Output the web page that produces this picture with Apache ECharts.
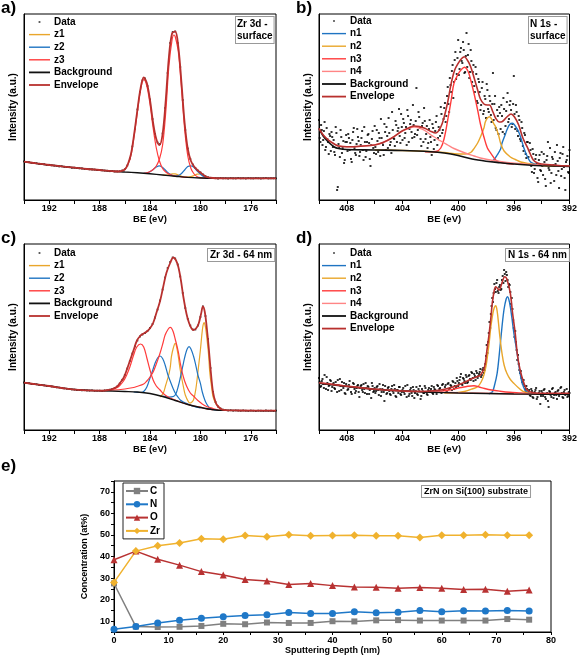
<!DOCTYPE html>
<html><head><meta charset="utf-8">
<script src="https://cdn.jsdelivr.net/npm/echarts@6/dist/echarts.min.js"></script>
<style>html,body{margin:0;padding:0;background:#fff}#c{width:580px;height:659px}</style>
</head><body><div id="c"></div><script>
// ---------- Panel a: Zr 3d surface (BE eV, intensity a.u.) ----------
const aDataStart = 194, aDataStep = 0.2;
const aData = [38.6,38.0,37.9,37.2,37.0,36.8,36.2,36.0,35.8,35.1,35.2,34.6,34.3,34.2,33.5,33.7,33.2,32.9,32.8,32.2,
32.4,32.0,31.6,31.5,31.0,31.1,30.6,30.5,30.4,29.9,30.1,29.6,29.4,29.3,28.8,28.9,28.5,28.6,28.8,29.6,30.8,
34.5,41.5,53.5,71,90.5,108,119.5,121.5,114,100.5,81,66,57.5,56,66.5,92,127,157,168,168.5,
157,133,100,70,51.5,41,35.5,32,29.5,27.6,25.5,23.8,22.9,22.2,21.9,21.8,21.5,21.9,21.6,21.7,
21.4,21.8,21.6,21.5,21.9,21.6,21.7,21.4,21.8,21.6,21.5,21.8,21.7,21.4,21.7,21.8,21.5,21.7,21.6,21.7];
const aEnv = [[194,38.3],[193,36.6],[192,35],[191,33.6],[190,32.3],[189,31],[188,30],[187.5,29.3],[187,28.8],[186.5,28.5],[186.25,29],[186,30.5],[185.75,36],[185.5,46.5],[185.25,66.5],[185,90],[184.75,111.5],[184.5,122.5],[184.25,117],[184,100],[183.75,77],[183.5,61],[183.25,55],[183,66],[182.75,100],[182.5,143],[182.25,166.5],[182,168.5],[181.75,153],[181.5,117],[181.25,77],[181,51],[180.75,39],[180.5,33.5],[180.25,30],[180,27.5],[179.75,25],[179.5,23],[179,22],[178,21.7],[174,21.7]];
const aBg = [[194,38.3],[192,35],[190,32.3],[188,30],[187,28.8],[186,28],[185,27.2],[184,26.2],[183,25],[182,23.8],[181,22.6],[180,22],[179,21.7],[174,21.7]];
const aZ3a = [[187,28.8],[186.5,28.6],[186.25,29.2],[186,30.5],[185.75,35.5],[185.5,45.5],[185.25,65],[185,88],[184.75,110],[184.5,120.5],[184.25,114],[184,96],[183.75,72],[183.5,52],[183.25,39],[183,31.5],[182.75,28],[182.5,26],[182.25,24.8],[182,24],[181.5,23.2],[181,22.6]];
const aZ3b = [[184.5,26.6],[184.25,27.2],[184,28.5],[183.75,30.5],[183.5,34],[183.25,41],[183,55],[182.75,88],[182.5,134],[182.25,160],[182.1,165],[182,163.5],[181.75,148],[181.5,111],[181.25,71],[181,44],[180.75,31.5],[180.5,26],[180.25,23.3],[180,22.4],[179.5,21.9],[179,21.7]];
const aZ2 = [[184.5,26.6],[184.25,27],[184,28.3],[183.75,30.5],[183.5,33],[183.25,34.2],[183,32.5],[182.75,29.5],[182.5,26.5],[182.25,24.6],[182,24],[181.75,24.5],[181.5,26.5],[181.25,30],[181,33.5],[180.75,34.2],[180.5,32.5],[180.25,29],[180,26],[179.75,23.5],[179.5,22.2],[179.25,21.8],[179,21.7]];
const aZ1 = [[183,25],[182.75,24.8],[182.5,25.3],[182.25,26.2],[182,26.2],[181.75,25],[181.5,23.8],[181.25,23],[181,22.8],[180.75,23.3],[180.5,24.5],[180.25,25.8],[180,26],[179.75,24.8],[179.5,23],[179.25,22],[179,21.7]];

// ---------- Panel b: N 1s surface ----------
const bDataStart = 410, bDataStep = 0.1;
const bData = [80,58,70,60,78,53,61,46,64,68, 53,48,73,10,56,43,63,52,37,58, 58,66,50,41,60,72,47,56,63,44,
55,69,40,58,49,65,57,34,61,52, 74,46,59,67,44,62,55,76,50,64, 82,55,47,70,61,79,58,72,64,86,
60,77,67,55,84,71,80,62,75,66, 112,70,83,61,74,58,79,66,52,71, 63,45,72,60,78,55,73,64,86,70,
92,78,104,96,122,108,135,118,148,126, 160,131,152,137,150,128,167,145,122,150, 118,135,108,126,97,118,90,112,86,104,
82,110,88,99,78,127,96,72,90,66, 87,95,68,91,74,98,78,95,90,76, 124,71,88,64,80,59,72,49,65,42,
58,36,50,28,46,31,45,22,40,30, 48,25,38,14,44,32,52,27,41,19, 36,55,29,42,24,46,33,10,40,28, 50];
const bData2Start = 409.95, bData2Step = 0.1;
const bData2 = [62,75,55,69,50,72,58,66,49,63, 60,45,67,13,52,70,47,59,40,65, 49,62,57,38,68,52,45,71,59,48,
62,50,73,43,58,66,41,55,69,47, 53,70,48,62,81,57,45,68,73,52, 67,58,88,62,54,75,69,91,57,73,
81,62,73,90,58,76,68,95,63,79, 65,88,72,54,77,92,61,74,57,80, 58,76,51,69,84,62,70,93,67,81,
97,84,113,88,115,129,102,140,121,142, 125,148,139,158,127,144,133,156,128,139, 128,114,133,99,121,108,95,118,89,101,
116,91,104,85,96,80,104,70,84,93, 71,84,102,66,89,107,81,99,73,96, 86,95,69,84,61,78,54,67,46,58,
43,57,34,51,27,41,36,18,45,29, 34,46,21,40,58,30,17,43,35,48, 25,39,12,47,31,53,22,38,44,27];
const bEnv = [[410,71.7],[409.7,65],[409.33,60],[408.9,56],[408.6,54],[408,53.3],[407,53.8],[406,55],[405.4,57.5],[404.8,61.7],[404,69.3],[403.5,72.5],[403.15,74],[402.8,73.5],[402.4,71.7],[401.95,68.5],[401.6,67],[401.25,73],[401,83.3],[400.75,98],[400.5,116.7],[400.25,130],[400,136.7],[399.75,141.5],[399.55,143.3],[399.3,139],[399.1,133.3],[398.85,122],[398.6,110],[398.4,101],[398.15,96],[397.9,95],[397.75,95],[397.5,88],[397.3,81.7],[397.05,78],[396.85,78.3],[396.5,83],[396.2,86],[395.95,83],[395.65,75],[395.35,62],[395.05,53.3],[394.8,45.5],[394.6,40],[394.3,37],[394,36],[393,34.8],[392,34]];
const bBg = [[410,71.7],[409.7,64],[409.33,58],[408.9,53],[408.6,51.5],[408,50.5],[406,50],[404,49.5],[402,48.3],[401,47],[400,44.5],[399,41],[398,38.8],[397,37.3],[396,36],[395,35],[394,34.3],[392,33.5]];
const bN4 = [[410,71.7],[409.7,65],[409.33,60],[408.9,56],[408.6,54],[408,53.3],[407,53.8],[406,55],[405.4,57.5],[404.8,61.7],[404,69],[403.5,72],[403.15,73],[402.8,72],[402.4,69.5],[401.95,65],[401.6,62],[401.25,59],[400.75,55],[400.3,51.5],[399.5,47],[398.85,44],[398.4,42],[397.5,39.5],[396.5,37.5],[395.3,36],[394,35],[392,34]];
const bN3 = [[402.4,48.2],[401.95,48.3],[401.6,48.5],[401.25,52],[401,62],[400.75,80],[400.5,100],[400.3,116.7],[400,126],[399.8,130],[399.55,132.7],[399.3,129],[399.1,120],[398.85,106],[398.6,90],[398.4,76],[398.15,63],[397.9,52],[397.65,46.7],[397.3,40],[397,38],[396.5,36.5],[396,36]];
const bN2 = [[406,50],[404,49.5],[402,48.5],[401,47.5],[400,46],[399.5,46],[399.1,47.5],[398.85,51.7],[398.6,57],[398.4,63],[398.15,72],[398.05,78],[397.9,82],[397.75,83.3],[397.6,81],[397.45,76.5],[397.3,73],[397.1,65],[396.95,56.7],[396.7,49],[396.25,43],[395.9,40.5],[395.5,38],[395,36.5],[394.5,35.5],[394,34.5],[393,33.8]];
const bN1 = [[397.6,38.5],[397.45,40],[397.2,45],[396.95,51],[396.85,56.7],[396.6,66],[396.5,70],[396.3,75.5],[396.1,76.7],[395.9,74],[395.65,68],[395.45,60],[395.3,53],[395.05,44],[394.8,38],[394.5,36],[394,34.5]];

// ---------- Panel c: Zr 3d 64 nm ----------
const cDataStart = 194, cDataStep = 0.2;
const cData = [47.5,47.0,46.8,46.0,45.9,45.7,45.0,44.9,44.6,44.0, 44.1,43.5,43.2,42.6,42.4,42.1,41.5,41.2,40.9,40.5,
40.4,40.0,39.9,39.6,39.8,39.5,39.3,39.6,39.2,39.4, 39.4,39.2,39.7,39.8,40.3,41.0,41.9,43.6,46.5,50.2, 55,
61.5,69,76.5,83.5,89.5,93.5,95.5,97,99,102, 106,112.5,120.5,129.5,140.5,152.5,162,168,172.5,171.5,
165.5,153.5,137,122,111,104.5,100.5,100.5,104.5,113, 123.5,114,91,62,38,28,23.5,21.5,20.4,19.9,
19.5,19.8,19.3,19.6,19.4,19.2,19.6,19.3,19.1,19.5,19.3,19.0,19.4,19.3,19.1,19.5,19.2,19.3,19.0,19.3];
const cEnv = [[194,47.3],[193,45.6],[192,44],[191,42],[190,40.3],[189,39.6],[188,39.3],[187.5,39.6],[187,41],[186.6,43.5],[186.4,46.7],[186.1,52],[185.85,60],[185.6,69],[185.3,80],[185.05,89],[184.75,94.5],[184.5,96.5],[184.25,98.5],[184,101.7],[183.75,107],[183.5,116.7],[183.2,129],[182.95,143.3],[182.7,157],[182.4,167],[182.15,172.5],[181.95,170],[181.75,163],[181.55,150],[181.35,133],[181.1,116],[180.9,107],[180.7,101.5],[180.55,100],[180.35,101.5],[180.15,106],[179.95,116],[179.8,123.5],[179.65,118],[179.5,103],[179.35,84],[179.2,62],[179,38],[178.8,28],[178.6,23.5],[178.2,20.2],[177,19.5],[174,19.3]];
const cBg = [[194,47.3],[192,44],[190,40.5],[188,39.3],[186,38.5],[185,38],[184,36.5],[183,33.5],[182,29.5],[181,25.5],[180,22.5],[179,20.3],[178,19.6],[174,19.3]];
const cZ3a = [[188,39.3],[187.5,39.5],[187,40.5],[186.6,42.5],[186.4,44.5],[186.1,49],[185.85,55],[185.6,63],[185.3,75],[185.05,83],[184.75,86],[184.5,83],[184.25,72],[184,60],[183.75,50],[183.5,44],[183.2,40],[182.95,36.5],[182.55,33],[182,30],[181.5,27.5],[181,25.5],[180.5,24],[180,22.8],[179.5,21],[179,20.3]];
const cZ3b = [[188,39.3],[187,39.8],[186,41],[185.3,42.5],[185.05,43.5],[184.5,46],[184.25,49],[184,53],[183.75,58],[183.5,66],[183.2,77],[182.95,88],[182.8,95],[182.55,101],[182.4,102.7],[182.3,102],[182.15,98],[182,91],[181.75,78],[181.6,67],[181.35,53],[181.1,44],[180.8,37],[180.55,34],[180.2,29.5],[179.9,26.5],[179.5,23.5],[179,21.5],[178.6,20],[178.2,19.6]];
const cZ2a = [[185.3,38],[184.75,37.5],[184.5,38.5],[184.25,43],[184,52],[183.75,61],[183.6,66.7],[183.4,72],[183.2,74],[183,71.5],[182.8,65],[182.6,56],[182.4,49],[182.15,41],[182,37],[181.75,32.5],[181.6,30],[181.35,28],[181,26],[180.5,23.5],[180,22]];
const cZ2b = [[183,34],[182.5,33],[182.15,33.5],[181.95,36],[181.75,44],[181.6,52],[181.35,66.7],[181.2,75],[181.05,81],[180.9,83.3],[180.75,81],[180.55,74],[180.4,66.7],[180.2,55],[180,46.7],[179.85,38],[179.65,30],[179.5,26],[179.25,21.7],[179,20.5],[178.6,19.8]];
const cZ1a = [[183.2,33],[182.95,36.7],[182.75,45],[182.55,53.3],[182.4,62],[182.3,73.3],[182.15,82],[182,86.7],[181.9,84],[181.75,73.3],[181.6,60],[181.35,43.3],[181.2,35],[180.95,28.3],[180.8,26.7]];
const cZ1b = [[180.8,26.7],[180.55,30],[180.35,42],[180.15,63.3],[180,80],[179.9,93.3],[179.8,104],[179.7,107.3],[179.6,103],[179.5,93.3],[179.35,75],[179.25,56.7],[179.1,42],[179,33.3],[178.8,27],[178.6,23.3],[178.3,20.5],[178,19.7]];

// ---------- Panel d: N 1s 64 nm ----------
const dDataStart = 410, dDataStep = 0.1;
const dData = [52,43,49,46,55,41,47,44,50,39, 46,42,48,38,45,51,40,44,47,36, 44,41,49,38,43,46,37,42,45,33,
44,40,46,37,42,44,36,41,47,38, 42,39,44,35,41,38,45,29,40,37, 43,36,41,39,45,34,40,37,43,35,
40,38,44,33,39,36,42,34,40,37, 43,35,39,31,41,37,44,38,35,42, 39,44,36,41,38,45,39,42,37,46,
40,45,39,47,42,44,49,41,47,52, 44,50,56,45,51,47,53,48,55,50, 57,49,54,59,52,56,61,55,62,60,
74,77,97,102,124,128,146,138,150,137, 145,141,154,160,149,155,143,145,126,121, 102,99,80,75,60,59,48,50,41,44,
36,40,34,39,32,38,42,33,37,26, 39,34,41,31,37,23,38,33,42,35, 38,31,40,36,43,33,38,35,41,34, 37];
const dData2Start = 409.95, dData2Step = 0.1;
const dData2 = [48,44,51,42,46,53,40,45,49,43, 47,41,45,50,39,44,48,42,37,46, 40,45,43,36,47,41,39,44,38,42,
45,38,41,47,36,43,40,32,44,39, 37,43,40,46,34,41,38,44,36,42, 39,35,44,37,41,33,40,43,36,38,
42,36,39,45,34,40,37,43,32,39, 36,41,44,34,39,37,42,36,40,38, 41,37,43,40,36,44,41,38,45,40,
43,38,46,41,45,40,48,44,43,49, 47,53,46,52,49,55,47,54,51,58, 52,56,50,57,54,58,53,60,57,66,
85,88,108,116,132,137,141,147,139,143, 140,150,147,156,158,150,146,138,132,110, 93,88,70,66,57,52,46,44,39,41,
38,35,41,33,37,40,31,36,39,34, 37,40,33,36,29,39,35,41,32,37, 35,39,34,42,37,32,40,36,33,38];
const dEnv = [[410,47.3],[408,43.8],[406,40.8],[404,39],[403.2,38.5],[402,39],[401.25,40],[400.5,42.5],[400,45],[399.5,48],[399.1,50.7],[398.7,53],[398.4,55],[398.15,61],[398.05,66.7],[397.95,78],[397.8,93.3],[397.65,112],[397.55,126.7],[397.4,140],[397.3,143.3],[397.2,142],[397.05,140],[396.9,145],[396.65,153.3],[396.5,151],[396.25,136.7],[396.1,118],[395.9,96.7],[395.75,76],[395.55,60],[395.3,48],[395.05,40],[394.7,37.5],[394.1,36.7],[392,36.7]];
const dBg = [[410,46.7],[408,43.5],[406,40.8],[404,39],[402,37.8],[400,37],[398,36.5],[396,36],[394,35.8],[392,35.7]];
const dN4 = [[410,47.3],[408,43.8],[406,41],[404,39.2],[402,38.2],[400,37.3],[398,36.7],[396,36.1],[394,35.8]];
const dN3 = [[402,38.3],[401.25,38.8],[400.75,39.8],[400.3,41],[399.8,42.5],[399.3,43.8],[398.86,44.3],[398.5,43],[398.1,41.5],[397.6,40],[397,38.8],[396.3,37.7],[395.5,37],[395,36.5],[394.5,36.2]];
const dN2 = [[401,37],[400,37.5],[399.55,38.5],[399,41],[398.6,43.3],[398.35,48],[398.15,55],[398,64],[397.9,73.3],[397.75,90],[397.65,103.3],[397.5,117],[397.4,122.5],[397.3,124.3],[397.2,119],[397.1,106.7],[397,93],[396.85,76.7],[396.7,65],[396.5,56.7],[396.25,50.5],[396,46.7],[395.65,42],[395.3,38.3],[394.9,36.8],[394.6,36],[394,35.8]];
const dN1 = [[397.8,36.3],[397.55,38],[397.4,44],[397.2,56.7],[397.05,75],[396.85,103.3],[396.7,121],[396.55,131],[396.45,133.3],[396.3,127],[396.15,113.3],[396,97],[395.8,80],[395.65,66],[395.55,56.7],[395.4,47],[395.2,40],[395,37.5],[394.7,36.2],[394.3,36]];

// ---------- Panel e: depth profile ----------
const depth = [0,4,8,12,16,20,24,28,32,36,40,44,48,52,56,60,64,68,72,76];
const concC  = [27.5,7.5,7.3,7.4,7.8,8.8,8.6,9.4,9.2,9.2,10.0,9.9,10.4,10.5,10.3,10.3,10.3,10.3,11.0,10.7];
const concN  = [6.3,7.6,9.2,10.5,11.4,12.1,12.7,13.0,14.0,13.6,13.6,14.4,13.9,14.2,15.0,14.4,14.8,14.7,15.0,14.7];
const concO  = [38.5,42.5,38.7,36.0,33.0,31.4,29.3,28.6,27.0,27.5,26.5,25.9,25.8,25.3,25.6,25.3,24.7,24.8,23.9,24.5];
const concZr = [28.0,42.5,45.0,46.3,48.2,48.0,49.7,49.2,50.1,49.6,49.7,49.8,49.6,49.6,48.8,49.9,49.9,50.1,49.8,49.9];

// ---------- build ----------
const FONT = '"Liberation Sans", Arial, sans-serif';
const COL = {z1:'#E9A62B', z2:'#1F74C2', z3:'#FF3B3B', n4:'#FF8585', bg:'#111111', env:'#B8302E'};
const seq = (start, step, vals) => vals.map((v, i) => [+(start - i * step).toFixed(2), v]);

function scat(name, data, i, size) {
  return {type:'scatter', name, data, xAxisIndex:i, yAxisIndex:i, symbol:'rect', symbolSize:size,
    itemStyle:{color:'#000'}, z:1, silent:true, animation:false};
}
function ln(name, data, color, width, i, z) {
  return {type:'line', name, data, xAxisIndex:i, yAxisIndex:i, symbol:'none', showSymbol:false,
    smooth:0.35, lineStyle:{color, width}, itemStyle:{color}, z, silent:true, animation:false};
}
const lblStyle = {fontFamily:FONT, fontWeight:'bold', fontSize:9, color:'#000'};
function beAxis(i, min, max) {
  return {type:'value', gridIndex:i, inverse:true, min, max, interval:2,
    axisLine:{show:true, lineStyle:{color:'#000', width:1}},
    axisTick:{show:true, inside:false, length:4, lineStyle:{color:'#000'}},
    splitLine:{show:false},
    axisLabel:Object.assign({margin:4, formatter: v => (Math.round(v) % 4 === 0 ? String(v) : '')}, lblStyle),
    name:'BE (eV)', nameLocation:'middle', nameGap:14,
    nameTextStyle:{fontFamily:FONT, fontWeight:'bold', fontSize:9.5, color:'#000'}};
}
function intAxis(i) {
  return {type:'value', gridIndex:i, min:0, max:186,
    axisLine:{show:true, lineStyle:{color:'#000'}}, axisTick:{show:false}, axisLabel:{show:false}, splitLine:{show:false},
    name:'Intensity (a.u.)', nameLocation:'middle', nameGap:6,
    nameTextStyle:{fontFamily:FONT, fontWeight:'bold', fontSize:10, color:'#000'}};
}
const gridBase = {show:true, borderColor:'#000', borderWidth:1, backgroundColor:'transparent'};
const dotIcon = w => `path://M0,0M${w},10M${w/2-0.9},4.2h1.8v1.6h-1.8z`;
const lineIcon = (w, t) => `path://M0,0M${w},10M0,${5-t/2}h${w}v${t}h-${w}z`;
function legendXPS(left, top, w, names) {
  const items = [{name:'Data', icon:dotIcon(w)}].concat(names.map(n => ({name:n,
    icon: lineIcon(w, n === 'Envelope' || n === 'Background' ? 1.8 : 1.4)})));
  return {orient:'vertical', left, top, itemWidth:w, itemHeight:10, itemGap:2.6, selectedMode:false,
    padding:0, textStyle:{fontFamily:FONT, fontWeight:'bold', fontSize:10, color:'#000', padding:[0,0,0,-1]},
    data:items};
}

const series = [
  // a
  scat('Data', seq(aDataStart, aDataStep, aData), 0, 1.8),
  ln('z1', aZ1, COL.z1, 1.2, 0, 2), ln('z2', aZ2, COL.z2, 1.2, 0, 2),
  ln('z3', aZ3a, COL.z3, 1.2, 0, 2), ln('z3', aZ3b, COL.z3, 1.2, 0, 2),
  ln('Background', aBg, COL.bg, 1.4, 0, 3), ln('Envelope', aEnv, COL.env, 1.8, 0, 4),
  // b
  scat('Data', seq(bDataStart, bDataStep, bData), 1, 2),
  scat('Data', seq(bData2Start, bData2Step, bData2), 1, 2),
  ln('n1', bN1, COL.z2, 1.4, 1, 2), ln('n2', bN2, COL.z1, 1.4, 1, 2),
  ln('n3', bN3, COL.z3, 1.4, 1, 2), ln('n4', bN4, COL.n4, 1.4, 1, 2),
  ln('Background', bBg, COL.bg, 1.6, 1, 3), ln('Envelope', bEnv, COL.env, 1.6, 1, 4),
  // c
  scat('Data', seq(cDataStart, cDataStep, cData), 2, 1.8),
  ln('z1', cZ1a, COL.z1, 1.2, 2, 2), ln('z1', cZ1b, COL.z1, 1.2, 2, 2),
  ln('z2', cZ2a, COL.z2, 1.2, 2, 2), ln('z2', cZ2b, COL.z2, 1.2, 2, 2),
  ln('z3', cZ3a, COL.z3, 1.2, 2, 2), ln('z3', cZ3b, COL.z3, 1.2, 2, 2),
  ln('Background', cBg, COL.bg, 1.4, 2, 3), ln('Envelope', cEnv, COL.env, 1.8, 2, 4),
  // d
  scat('Data', seq(dDataStart, dDataStep, dData), 3, 2),
  scat('Data', seq(dData2Start, dData2Step, dData2), 3, 2),
  ln('n1', dN1, COL.z2, 1.4, 3, 2), ln('n2', dN2, COL.z1, 1.4, 3, 2),
  ln('n3', dN3, COL.z3, 1.4, 3, 2), ln('n4', dN4, COL.n4, 1.4, 3, 2),
  ln('Background', dBg, COL.bg, 1.4, 3, 3), ln('Envelope', dEnv, COL.env, 1.6, 3, 4)
];
const eSer = [
  ['C', concC, '#808080', 'rect', 6],
  ['N', concN, '#1F78C8', 'circle', 7],
  ['O', concO, '#B83232', 'triangle', 7],
  ['Zr', concZr, '#F0B22E', 'diamond', 8]
];
eSer.forEach(([name, vals, color, symbol, size]) => {
  series.push({type:'line', name, data: depth.map((d, i) => [d, vals[i]]), xAxisIndex:4, yAxisIndex:4,
    symbol, symbolSize:size, showSymbol:true, lineStyle:{color, width:1.5}, itemStyle:{color},
    z:5, silent:true, animation:false});
});

const option = {
  animation:false,
  backgroundColor:'#fff',
  grid:[
    Object.assign({left:24, top:14, width:252, height:186}, gridBase),
    Object.assign({left:319, top:14, width:251, height:186}, gridBase),
    Object.assign({left:24, top:244, width:252, height:186}, gridBase),
    Object.assign({left:319, top:244, width:251, height:186}, gridBase),
    Object.assign({left:114, top:481, width:437, height:151}, gridBase)
  ],
  xAxis:[
    beAxis(0, 174, 194), beAxis(1, 392, 410), beAxis(2, 174, 194), beAxis(3, 392, 410),
    {type:'value', gridIndex:4, min:0, max:80, interval:5,
      axisLine:{show:true, lineStyle:{color:'#000'}}, axisTick:{show:true, length:3, lineStyle:{color:'#000'}},
      splitLine:{show:false},
      axisLabel:Object.assign({margin:4, formatter: v => (v % 10 === 0 ? String(v) : '')}, lblStyle),
      name:'Sputtering Depth (nm)', nameLocation:'middle', nameGap:14,
      nameTextStyle:{fontFamily:FONT, fontWeight:'bold', fontSize:9, color:'#000'}}
  ],
  yAxis:[
    intAxis(0), intAxis(1), intAxis(2), intAxis(3),
    {type:'value', gridIndex:4, min:5, max:75, interval:5,
      axisLine:{show:true, lineStyle:{color:'#000'}}, axisTick:{show:true, length:3, lineStyle:{color:'#000'}},
      splitLine:{show:false},
      axisLabel:Object.assign({margin:4, formatter: v => (v % 10 === 0 ? String(v) : '')}, lblStyle),
      name:'Concentration (at%)', nameLocation:'middle', nameGap:13,
      nameTextStyle:{fontFamily:FONT, fontWeight:'bold', fontSize:9, color:'#000'}}
  ],
  legend:[
    legendXPS(29, 17, 21, ['z1','z2','z3','Background','Envelope']),
    legendXPS(322, 16, 24, ['n1','n2','n3','n4','Background','Envelope']),
    legendXPS(29, 248, 21, ['z1','z2','z3','Background','Envelope']),
    legendXPS(322, 248, 24, ['n1','n2','n3','n4','Background','Envelope']),
    {orient:'vertical', left:123, top:483, itemWidth:22, itemHeight:8, itemGap:3.3, selectedMode:false,
      padding:[3,4,3,2], borderColor:'#222', borderWidth:1, backgroundColor:'#fff',
      textStyle:{fontFamily:FONT, fontWeight:'bold', fontSize:10, color:'#000', padding:[0,0,0,-3]},
      data:['C','N','O','Zr']}
  ],
  graphic:[
    {type:'text', left:1, top:0, style:{text:'a)', font:'bold 17px ' + FONT, fill:'#000'}},
    {type:'text', left:296, top:0, style:{text:'b)', font:'bold 17px ' + FONT, fill:'#000'}},
    {type:'text', left:1, top:230, style:{text:'c)', font:'bold 17px ' + FONT, fill:'#000'}},
    {type:'text', left:296, top:230, style:{text:'d)', font:'bold 17px ' + FONT, fill:'#000'}},
    {type:'text', left:1, top:458, style:{text:'e)', font:'bold 17px ' + FONT, fill:'#000'}},
    {type:'text', left:235, top:16, style:{text:'Zr 3d -\nsurface', font:'bold 10px ' + FONT, fill:'#000',
      align:'center', lineHeight:12, backgroundColor:'#fff', borderColor:'#999', borderWidth:1, padding:[1,1,1,1]}},
    {type:'text', left:528, top:16, style:{text:'N 1s -\nsurface', font:'bold 10px ' + FONT, fill:'#000',
      align:'center', lineHeight:12, backgroundColor:'#fff', borderColor:'#999', borderWidth:1, padding:[1,1,1,1]}},
    {type:'text', left:207, top:248, style:{text:'Zr 3d - 64 nm', font:'bold 10px ' + FONT, fill:'#000',
      backgroundColor:'#fff', borderColor:'#999', borderWidth:1, padding:[1,2,1,2]}},
    {type:'text', left:505, top:248, style:{text:'N 1s - 64 nm', font:'bold 10px ' + FONT, fill:'#000',
      backgroundColor:'#fff', borderColor:'#999', borderWidth:1, padding:[1,2,1,2]}},
    {type:'text', left:421, top:485, style:{text:'ZrN on Si(100) substrate', font:'bold 9px ' + FONT, fill:'#000',
      backgroundColor:'#fff', borderColor:'#999', borderWidth:1, padding:[1,2,1,2]}}
  ],
  series
};
const chart = echarts.init(document.getElementById('c'), null, {renderer:'canvas'});
chart.setOption(option);
</script></body></html>
